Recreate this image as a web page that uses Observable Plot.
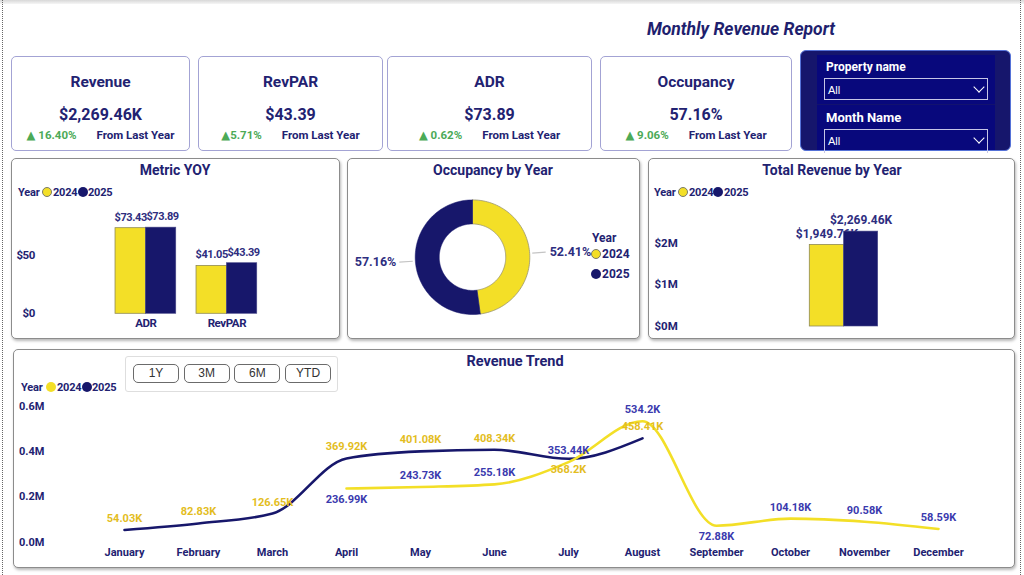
<!DOCTYPE html>
<html>
<head>
<meta charset="utf-8">
<script src="https://cdn.jsdelivr.net/npm/d3@7"></script>
<script src="https://cdn.jsdelivr.net/npm/@observablehq/plot@0.6"></script>
<style>
  body { margin: 0; background: #fff; font-family: Roboto, "DejaVu Sans", sans-serif; }
  #page { position: relative; width: 1024px; height: 575px; overflow: hidden; background: #fff; }
  .t { position: absolute; white-space: nowrap; line-height: 1; }
  .card { position: absolute; border: 1px solid #a3a3d4; border-radius: 5px; background: #fff; box-sizing: border-box; }
  .panel { position: absolute; border: 1px solid #8c8c8c; border-radius: 5px; background: #fff; box-sizing: border-box; box-shadow: 1px 2px 3px rgba(0,0,0,0.28); }
  .plot { position: absolute; }
  .plot svg { overflow: visible; }
  .dot { position: absolute; border-radius: 50%; box-sizing: border-box; }
  .btn { position: absolute; border: 1px solid #6b6b6b; border-radius: 5px; box-sizing: border-box; font-family: "Liberation Sans", Arial, sans-serif; font-size: 12px; color: #333; text-align: center; }
  .chev { position: absolute; width: 7px; height: 7px; border-right: 1.5px solid #fff; border-bottom: 1.5px solid #fff; transform: rotate(45deg); }
</style>
</head>
<body>
<div id="page"></div>
<script>
// ---------------- DATA ----------------
const kpiNames   = ["Revenue", "RevPAR", "ADR", "Occupancy"];
const kpiValues  = ["$2,269.46K", "$43.39", "$73.89", "57.16%"];
const kpiChanges = ["▲ 16.40%", "▲5.71%", "▲ 0.62%", "▲ 9.06%"];
const kpiNote    = "From Last Year";

const years = ["2024", "2025"];

const metricNames = ["ADR", "RevPAR"];
const metric2024  = [73.43, 41.05];
const metric2025  = [73.89, 43.39];

const occValues = [52.41, 57.16];          // 2024, 2025

const totalRevenue = [1949760, 2269460];   // 2024, 2025

const months = ["January","February","March","April","May","June","July","August","September","October","November","December"];
const rev2024 = [null, null, null, 236990, 243730, 255180, 353440, 534200, 72880, 104180, 90580, 58590];
const rev2025 = [54030, 82830, 126650, 369920, 401080, 408340, 368200, 458410, null, null, null, null];

const slicerLabels = ["Property name", "Month Name"];
const slicerValues = ["All", "All"];
const rangeButtons = ["1Y", "3M", "6M", "YTD"];

// ---------------- STYLE ----------------
const NAVY = "#17176b";
const YELLOW = "#f3df27";
const TXT = "#222271";
const LBL = "#2e2e80";
const GOLD = "#e3bd1e";
const BLUE = "#3a3aae";
const GREEN = "#4caa57";
const FONT = "Roboto, 'DejaVu Sans', sans-serif";

const page = document.getElementById("page");

function el(cls, css, html) {
  const d = document.createElement("div");
  if (cls) d.className = cls;
  Object.assign(d.style, css);
  if (html != null) d.textContent = html;
  page.appendChild(d);
  return d;
}
function txt(s, x, y, o = {}) {
  const anchor = o.anchor || "middle";
  const tx = anchor === "middle" ? "-50%" : anchor === "end" ? "-100%" : "0";
  return el("t", {
    left: x + "px", top: y + "px", transform: `translate(${tx},-50%)`,
    fontSize: (o.size || 12) + "px", fontWeight: o.weight || 700, color: o.color || TXT,
    fontStyle: o.italic ? "italic" : "normal", fontFamily: o.family || FONT,
    letterSpacing: o.ls || "normal"
  }, s);
}
function legend(x, y, withOutline, pos) {
  txt("Year", x, y, {anchor: "start", size: 11, ls: "-0.2px"});
  [YELLOW, NAVY].forEach((c, i) => {
    const cx = pos[i * 2], tx = pos[i * 2 + 1];
    el("dot", {left: (cx - 5) + "px", top: (y - 5) + "px", width: "10px", height: "10px", background: c,
      border: (withOutline && i === 0) ? "1.5px solid #7a7a6a" : "none"});
    txt(years[i], tx, y, {anchor: "start", size: 11, ls: "-0.2px"});
  });
}
function mount(node, left, top) {
  const w = document.createElement("div");
  w.className = "plot";
  w.style.left = left + "px"; w.style.top = top + "px";
  w.appendChild(node);
  page.appendChild(w);
}
const baseStyle = (size, ls) => ({fontFamily: FONT, fontSize: size + "px", fontWeight: 700, color: TXT, background: "transparent", overflow: "visible", letterSpacing: ls || "normal"});

// ---------------- FRAME ----------------
el("", {position: "absolute", left: "0", top: "0", width: "1024px", height: "4px", background: "linear-gradient(#d8d8d8,#f6f6f6)"});
el("", {position: "absolute", left: "2px", top: "0", width: "0", height: "575px", borderLeft: "1px dotted #666"});
el("", {position: "absolute", left: "1020px", top: "0", width: "0", height: "575px", borderLeft: "1px dotted #666"});

txt("Monthly Revenue Report", 741, 30, {size: 17.5, italic: true, color: "#1f1f6e"});

// ---------------- KPI CARDS ----------------
const cardBoxes = [[11, 190], [198, 383], [387, 592], [600, 792]];
cardBoxes.forEach(([l, r], i) => {
  el("card", {left: l + "px", top: "56px", width: (r - l) + "px", height: "95px"});
  const cx = (l + r) / 2;
  txt(kpiNames[i], cx, 83, {size: 15.5});
  txt(kpiValues[i], cx, 115, {size: 16});
  const row = el("", {position: "absolute", left: l + "px", top: "128px", width: (r - l) + "px", height: "14px",
    display: "flex", justifyContent: "center", alignItems: "center", gap: "20px", fontWeight: 700, fontFamily: FONT, fontSize: "11.5px"});
  const a = document.createElement("span"); a.textContent = kpiChanges[i]; a.style.color = GREEN;
  const b = document.createElement("span"); b.textContent = kpiNote; b.style.color = TXT;
  row.appendChild(a); row.appendChild(b);
});

// ---------------- SLICER ----------------
el("", {position: "absolute", left: "800px", top: "50px", width: "211px", height: "101px", background: "#16166c",
  border: "1px solid #5572d8", borderRadius: "6px", boxSizing: "border-box"});
el("", {position: "absolute", left: "817px", top: "55px", width: "178px", height: "95px", background: "#08087c"});
el("", {position: "absolute", left: "817px", top: "104px", width: "178px", height: "1px", background: "#12126e"});
[[67, 78], [117, 129]].forEach(([ly, by], i) => {
  txt(slicerLabels[i], 826, ly, {anchor: "start", size: i === 0 ? 12 : 13, color: "#fff"});
  el("", {position: "absolute", left: "824px", top: by + "px", width: "164px", height: i === 0 ? "22px" : "24px",
    border: "1px solid #c6c6e6", boxSizing: "border-box", borderBottom: i === 1 ? "none" : "1px solid #c6c6e6"});
  txt(slicerValues[i], 828, by + 12, {anchor: "start", size: 11, weight: 400, color: "#fff", family: "'Liberation Sans', Arial, sans-serif"});
  el("chev", {left: "975px", top: (by + 5) + "px"});
});

// ---------------- PANELS ----------------
el("panel", {left: "11px", top: "158px", width: "329px", height: "181px"});
el("panel", {left: "347px", top: "158px", width: "293px", height: "181px"});
el("panel", {left: "648px", top: "158px", width: "367px", height: "181px"});
el("panel", {left: "13px", top: "349px", width: "1002px", height: "219px"});

txt("Metric YOY", 175, 170, {size: 14});
txt("Occupancy by Year", 493, 170, {size: 14});
txt("Total Revenue by Year", 832, 170, {size: 14});
txt("Revenue Trend", 515, 362, {size: 14.5});

legend(18, 192, true, [47, 53, 83, 88]);
legend(654, 192, true, [683, 689, 718, 724]);
legend(21, 387, false, [51, 57, 87, 92]);

// donut legend
txt("Year", 592, 238, {anchor: "start", size: 12});
[YELLOW, NAVY].forEach((c, i) => {
  const y = 254 + i * 20;
  el("dot", {left: "591px", top: (y - 5) + "px", width: "10px", height: "10px", background: c,
    border: i === 0 ? "1.5px solid #7a7a6a" : "none"});
  txt(years[i], 602, y, {anchor: "start", size: 12});
});

// range buttons
el("", {position: "absolute", left: "125px", top: "356px", width: "213px", height: "36px", border: "1px solid #dedede", borderRadius: "3px", boxSizing: "border-box"});
rangeButtons.forEach((b, i) => {
  el("btn", {left: (133 + i * 50.7) + "px", top: "364px", width: "46px", height: "19px", lineHeight: "17px"}, b);
});

// ---------------- METRIC YOY ----------------
const metricRows = metricNames.flatMap((m, i) => [
  {metric: m, year: "2024", value: metric2024[i]},
  {metric: m, year: "2025", value: metric2025[i]}
]);
const m24 = metricRows.filter(d => d.year === "2024");
const m25 = metricRows.filter(d => d.year === "2025");
const mBand = 60.75;
mount(Plot.plot({
  width: 326, height: 145, marginTop: 6.7, marginBottom: 21.7, marginLeft: 25, marginRight: 0,
  x: {domain: metricNames, range: [92.9, 254.9], paddingInner: 0.25, paddingOuter: 0.125, round: false},
  y: {domain: [0, 100]},
  style: baseStyle(12, "-0.4px"),
  marks: [
    Plot.axisY({ticks: [0, 50], tickFormat: d => "$" + d, tickSize: 0, tickPadding: 2.5, fontSize: 11.5, label: null}),
    Plot.axisX({tickSize: 0, tickPadding: 5.5, fontSize: 11.5, label: null}),
    Plot.barY(m24, {x: "metric", y: "value", fill: YELLOW, stroke: "#8f8a55", strokeWidth: 0.8, insetRight: mBand / 2}),
    Plot.barY(m25, {x: "metric", y: "value", fill: NAVY, stroke: "#4a4a8a", strokeWidth: 0.6, insetLeft: mBand / 2}),
    Plot.text(m24, {x: "metric", y: "value", text: d => "$" + d.value.toFixed(2), dx: -mBand / 4, dy: -11, fill: LBL, fontSize: 11}),
    Plot.text(m25, {x: "metric", y: "value", text: d => "$" + d.value.toFixed(2), dx: mBand / 4 + 1.5, dy: -11, fill: LBL, fontSize: 11})
  ]
}), 12, 190);

// ---------------- OCCUPANCY DONUT ----------------
const occRows = years.map((y, i) => ({year: y, value: occValues[i]}));
const arcs = d3.pie().sort(null).value(d => d.value)(occRows);
const rIn = 0.58;
const ringRows = arcs.flatMap(a => {
  const pts = [], n = 90;
  for (let i = 0; i <= n; i++) {
    const t = a.startAngle + (a.endAngle - a.startAngle) * i / n;
    pts.push({year: a.data.year, x: Math.sin(t), y: Math.cos(t)});
  }
  for (let i = n; i >= 0; i--) {
    const t = a.startAngle + (a.endAngle - a.startAngle) * i / n;
    pts.push({year: a.data.year, x: rIn * Math.sin(t), y: rIn * Math.cos(t)});
  }
  pts.push(pts[0]);
  return pts;
});
const occLabels = arcs.map(a => {
  const m = (a.startAngle + a.endAngle) / 2;
  return {year: a.data.year, value: a.data.value, side: Math.sin(m) >= 0 ? "right" : "left",
    x1: 1.045 * Math.sin(m), y1: 1.045 * Math.cos(m), x2: 1.28 * Math.sin(m), y2: 1.28 * Math.cos(m)};
});
mount(Plot.plot({
  width: 290, height: 140, marginTop: 0, marginBottom: 0, marginLeft: 0, marginRight: 0,
  x: {domain: [-1, 1], range: [64.7, 179.3], axis: null},
  y: {domain: [-1, 1], range: [124, 9.4], axis: null},
  style: baseStyle(12),
  marks: [
    Plot.line(ringRows.filter(d => d.year === "2024"), {x: "x", y: "y", fill: YELLOW, stroke: "#9a9670", strokeWidth: 0.8}),
    Plot.line(ringRows.filter(d => d.year === "2025"), {x: "x", y: "y", fill: NAVY, stroke: NAVY, strokeWidth: 0.5}),
    Plot.link(occLabels, {x1: "x1", y1: "y1", x2: "x2", y2: "y2", stroke: "#c4c4c4", strokeWidth: 1.2}),
    Plot.text(occLabels.filter(d => d.side === "right"), {x: "x2", y: "y2", text: d => d.value.toFixed(2) + "%", textAnchor: "start", dx: 4, fill: LBL, fontSize: 12.5}),
    Plot.text(occLabels.filter(d => d.side === "left"), {x: "x2", y: "y2", text: d => d.value.toFixed(2) + "%", textAnchor: "end", dx: -3, fill: LBL, fontSize: 12.5})
  ]
}), 350, 190);

// ---------------- TOTAL REVENUE ----------------
const totRows = years.map((y, i) => ({year: y, value: totalRevenue[i]}));
const fmtK = d3.format(",.2f");
mount(Plot.plot({
  width: 362, height: 140, marginTop: 16, marginBottom: 9, marginLeft: 4, marginRight: 0,
  x: {domain: years, range: [159.3, 227.7], padding: 0, round: false, axis: null},
  y: {domain: [0, 2.75e6]},
  style: baseStyle(12),
  marks: [
    Plot.axisY({ticks: [0, 1e6, 2e6], tickFormat: d => "$" + (d / 1e6) + "M", tickSize: 0, tickPadding: 0, textAnchor: "start", fontSize: 11.5, label: null}),
    Plot.barY(totRows.filter(d => d.year === "2024"), {x: "year", y: "value", fill: YELLOW, stroke: "#8f8a55", strokeWidth: 0.8}),
    Plot.text(totRows.filter(d => d.year === "2024"), {x: "year", y: "value", text: d => "$" + fmtK(d.value / 1000) + "K", dy: -11, fill: LBL, fontSize: 12}),
    Plot.barY(totRows.filter(d => d.year === "2025"), {x: "year", y: "value", fill: NAVY, stroke: "#4a4a8a", strokeWidth: 0.6}),
    Plot.text(totRows.filter(d => d.year === "2025"), {x: "year", y: "value", text: d => "$" + fmtK(d.value / 1000) + "K", dy: -11.5, fill: LBL, fontSize: 12})
  ]
}), 650, 195);

// ---------------- REVENUE TREND ----------------
const s24 = months.map((m, i) => ({month: m, year: "2024", value: rev2024[i]})).filter(d => d.value != null);
const s25 = months.map((m, i) => ({month: m, year: "2025", value: rev2025[i]})).filter(d => d.value != null);
const belowLabels = new Set(["2024|April", "2025|July", "2024|September"]);
const isBelow = d => belowLabels.has(d.year + "|" + d.month);
const fmtT = v => +(v / 1000).toFixed(2) + "K";
const allPts = s24.concat(s25);
mount(Plot.plot({
  width: 1000, height: 170, marginTop: 10.8, marginBottom: 23.3, marginLeft: 32, marginRight: 0,
  x: {type: "point", domain: months, range: [71, 962]},
  y: {domain: [0, 6e5]},
  style: baseStyle(11),
  marks: [
    Plot.axisY({ticks: [0, 2e5, 4e5, 6e5], tickFormat: d => (d / 1e6).toFixed(1) + "M", tickSize: 0, tickPadding: 2, label: null}),
    Plot.axisX({tickSize: 0, tickPadding: 6, label: null}),
    Plot.line(s25, {x: "month", y: "value", stroke: NAVY, strokeWidth: 2.6, curve: "monotone-x"}),
    Plot.line(s24, {x: "month", y: "value", stroke: YELLOW, strokeWidth: 2.6, curve: "monotone-x"}),
    Plot.text(allPts.filter(d => !isBelow(d)), {x: "month", y: "value", text: d => fmtT(d.value), dy: -11.5,
      fill: d => d.year === "2025" ? GOLD : BLUE}),
    Plot.text(allPts.filter(isBelow), {x: "month", y: "value", text: d => fmtT(d.value), dy: 11,
      fill: d => d.year === "2025" ? GOLD : BLUE})
  ]
}), 14, 395);
</script>
</body>
</html>
